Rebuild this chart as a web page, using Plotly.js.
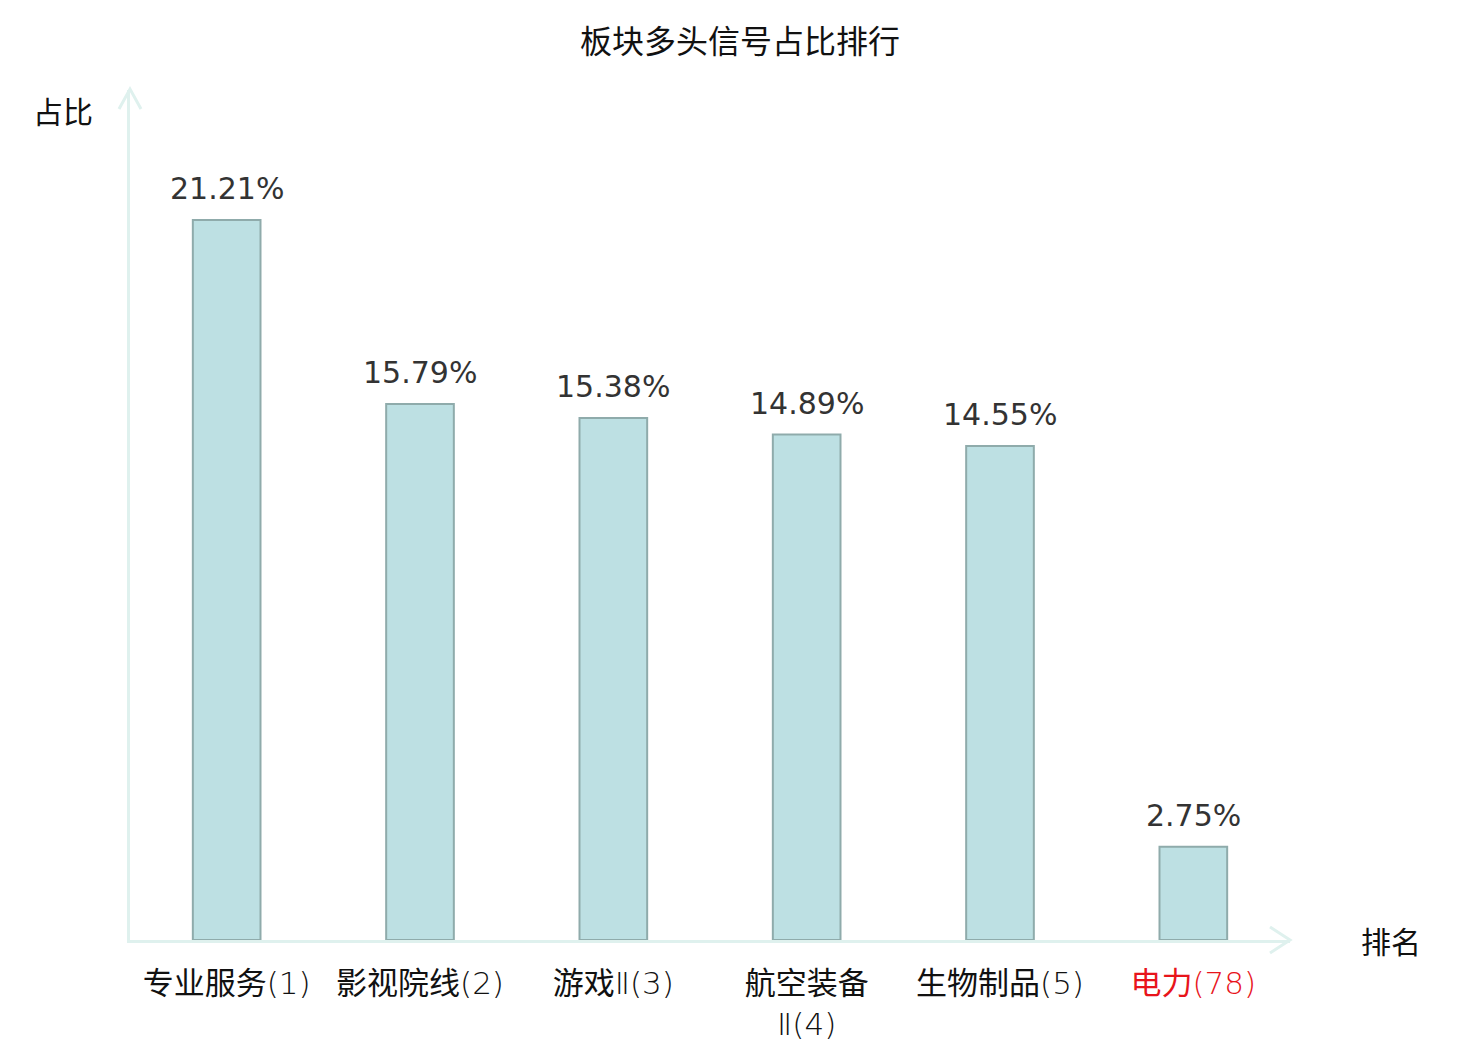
<!DOCTYPE html>
<html>
<head>
<meta charset="utf-8">
<script src="https://cdn.plot.ly/plotly-3.0.1.min.js"></script>
<style>html,body{margin:0;padding:0;background:#fff;}#chart{width:1480px;height:1040px;}</style>
</head>
<body>
<div id="chart"></div>
<script>
var categories = ['专业服务(1)', '影视院线(2)', '游戏Ⅱ(3)', '航空装备<br>Ⅱ(4)', '生物制品(5)', '电力(78)'];
var values = [21.21, 15.79, 15.38, 14.89, 14.55, 2.75];
var tickColors = ['#111111', '#111111', '#111111', '#111111', '#111111', '#e8141b'];

var FONT = '"DejaVu Sans", sans-serif';
var CJK = '"Noto Sans CJK SC", sans-serif';
var TICKFONT = '"DejaVu Sans", "Noto Sans CJK SC", sans-serif';
var W = 1480, H = 1040;
var M = {l: 130, r: 190, t: 90, b: 100};
var PW = W - M.l - M.r, PH = H - M.t - M.b;
var axisColor = '#dff1ee';

var tickText = categories.map(function (c, i) {
  var thin = c.replace(/(Ⅱ?\(\d+\))/, '<span style="font-weight:200">$1</span>');
  return '<span style="color:' + tickColors[i] + '">' + thin + '</span>';
});

var trace = {
  type: 'bar',
  x: categories,
  y: values,
  width: 0.35,
  marker: {color: '#bde0e3', line: {color: '#8fabab', width: 2}},
  hoverinfo: 'skip'
};

var annotations = categories.map(function (c, i) {
  return {
    x: c, y: values[i], xref: 'x', yref: 'y',
    text: values[i].toFixed(2) + '%',
    showarrow: false, yanchor: 'bottom', yshift: 12,
    font: {family: FONT, size: 30, color: '#333333'}
  };
});
annotations.push({
  xref: 'paper', yref: 'paper', x: (63 - M.l) / PW, y: (H - M.b - 110) / PH,
  text: '占比', showarrow: false, xanchor: 'center', yanchor: 'middle',
  font: {family: CJK, size: 30, color: '#111111'}
});
annotations.push({
  xref: 'paper', yref: 'paper', x: (1391 - M.l) / PW, y: (H - M.b - 940) / PH,
  text: '排名', showarrow: false, xanchor: 'center', yanchor: 'middle',
  font: {family: CJK, size: 30, color: '#111111'}
});

function px(x) { return (x - M.l) / PW; }
function py(y) { return (H - M.b - y) / PH; }
var shapes = [
  {type: 'path', xref: 'paper', yref: 'paper',
   path: 'M' + px(119) + ',' + py(109) + ' L' + px(130) + ',' + py(89) + ' L' + px(141) + ',' + py(109),
   line: {color: axisColor, width: 3}},
  {type: 'path', xref: 'paper', yref: 'paper',
   path: 'M' + px(1270) + ',' + py(927) + ' L' + px(1290) + ',' + py(940) + ' L' + px(1270) + ',' + py(953),
   line: {color: axisColor, width: 3}}
];

var layout = {
  width: W, height: H,
  margin: M,
  paper_bgcolor: '#ffffff', plot_bgcolor: '#ffffff',
  showlegend: false,
  title: {text: '板块多头信号占比排行', x: 0.5, xref: 'container', xanchor: 'center',
          y: 1 - 42 / H, yref: 'container', yanchor: 'middle',
          font: {family: CJK, size: 32, color: '#111111'}},
  xaxis: {
    type: 'category', range: [-0.5, 5.5],
    tickvals: categories, ticktext: tickText,
    showline: true, linecolor: axisColor, linewidth: 3,
    showgrid: false, zeroline: false, ticks: '',
    ticklabelstandoff: 14,
    tickfont: {family: TICKFONT, size: 31, color: '#111111'}
  },
  yaxis: {
    range: [0, 25.04], showline: true, linecolor: axisColor, linewidth: 3,
    showgrid: false, zeroline: false, showticklabels: false, ticks: ''
  },
  annotations: annotations,
  shapes: shapes
};

Plotly.newPlot('chart', [trace], layout, {displayModeBar: false, staticPlot: true});
</script>
</body>
</html>
